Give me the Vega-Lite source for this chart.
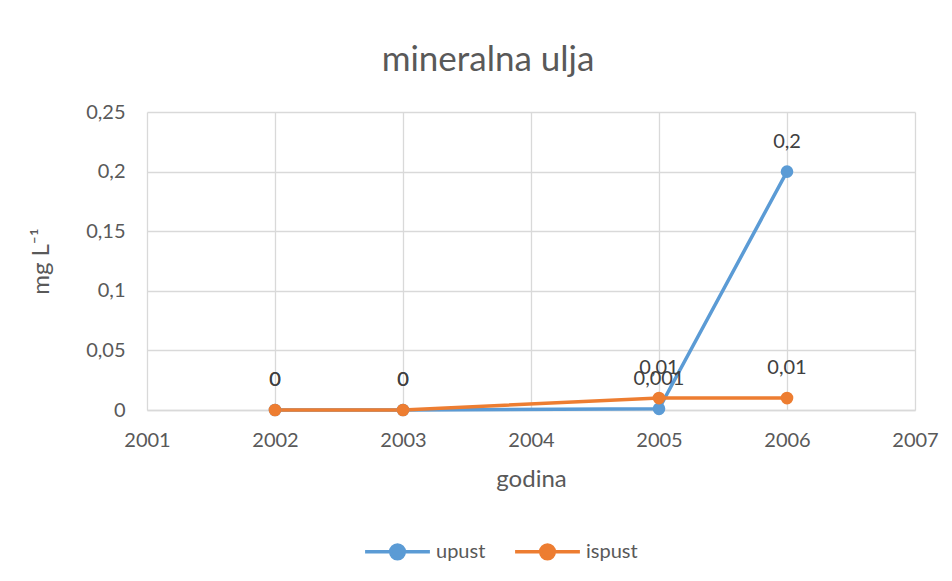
{
  "$schema": "https://vega.github.io/schema/vega-lite/v6.json",
  "autosize": "none",
  "width": 768,
  "height": 298,
  "padding": {"left": 147, "top": 112, "right": 37, "bottom": 171},
  "background": "white",
  "config": {
    "locale": {"number": {"decimal": ",", "thousands": ".", "grouping": [3], "currency": ["", " €"]}},
    "font": "Lato",
    "view": {"stroke": null},
    "axis": {"labelFont": "Lato", "titleFont": "Lato", "labelColor": "#595959", "titleColor": "#595959", "labelFontSize": 20, "titleFontSize": 25, "titleFontWeight": "normal", "gridColor": "#D9D9D9", "gridWidth": 1.3, "ticks": false},
    "legend": {"labelFont": "Lato", "labelFontSize": 20, "labelColor": "#595959"}
  },
  "title": {"text": "mineralna ulja", "fontSize": 35, "fontWeight": "normal", "color": "#595959", "font": "Lato", "dx": -43, "offset": 24},
  "data": {"values": [
    {"godina": 2002, "serija": "upust", "v": 0},
    {"godina": 2003, "serija": "upust", "v": 0},
    {"godina": 2005, "serija": "upust", "v": 0.001},
    {"godina": 2006, "serija": "upust", "v": 0.2},
    {"godina": 2002, "serija": "ispust", "v": 0},
    {"godina": 2003, "serija": "ispust", "v": 0},
    {"godina": 2005, "serija": "ispust", "v": 0.01},
    {"godina": 2006, "serija": "ispust", "v": 0.01}
  ]},
  "encoding": {
    "x": {"field": "godina", "type": "quantitative", "scale": {"domain": [2001, 2007], "nice": false, "zero": false},
      "axis": {"values": [2001, 2002, 2003, 2004, 2005, 2006, 2007], "format": "d", "title": "godina", "titleFontSize": 24, "titleFontWeight": "normal", "domainColor": "#D9D9D9", "domainWidth": 1.3, "labelPadding": 20, "titlePadding": 17, "labelFlush": false}},
    "y": {"field": "v", "type": "quantitative", "scale": {"domain": [0, 0.25], "nice": false},
      "axis": {"values": [0, 0.05, 0.1, 0.15, 0.2, 0.25], "format": "~g", "title": "mg L⁻¹", "titleFontSize": 24, "titleFontWeight": "normal", "domain": false, "labelPadding": 22, "titlePadding": 32, "labelFlush": false}},
    "color": {"field": "serija", "type": "nominal", "sort": ["upust", "ispust"],
      "scale": {"domain": ["upust", "ispust"], "range": ["#5B9BD5", "#ED7D31"]},
      "legend": {"title": null, "orient": "none", "legendX": 216, "legendY": 405, "direction": "horizontal",
        "symbolType": "M-1,0H-0.21A0.21,0.21,0,1,1,0.21,0H1M0.21,0A0.21,0.21,0,1,1,-0.21,0", "symbolSize": 4200, "symbolStrokeWidth": 3.5, "columnPadding": 22, "labelOffset": 4}}
  },
  "layer": [
    {"mark": {"type": "line", "strokeWidth": 3.5, "point": {"filled": true, "size": 160, "opacity": 1}}},
    {"mark": {"type": "text", "dy": -30, "fontSize": 20, "color": "#404040", "font": "Lato"},
      "encoding": {"text": {"field": "v", "type": "quantitative", "format": "~g"}, "color": {"value": "#404040"}}}
  ]
}
